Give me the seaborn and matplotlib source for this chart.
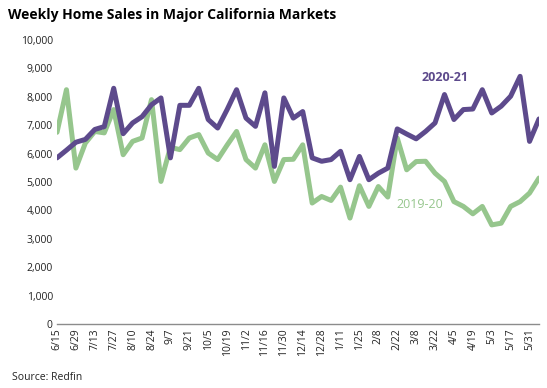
"""
Weekly home sales in major California markets (Redfin), 2020-21 vs 2019-20.
"""

# %% ----------------------------------------
# Requirements and constants
import numpy as np
import pandas as pd
import seaborn as sns
import matplotlib.pyplot as plt
from matplotlib.ticker import FuncFormatter

# weekly values, first week is 6/15, every other week gets a tick label
sales_2020_21 = [5850, 6120, 6400, 6500, 6850, 6950, 8300, 6700, 7080, 7300,
                 7720, 7960, 5850, 7700, 7700, 8300, 7200, 6900, 7550, 8250,
                 7250, 6960, 8140, 5550, 7960, 7250, 7480, 5850, 5730, 5790,
                 6080, 5080, 5900, 5080, 5310, 5490, 6870, 6690, 6520, 6780,
                 7080, 8080, 7200, 7550, 7570, 8250, 7430, 7670, 8020, 8720,
                 6430, 7220]
sales_2019_20 = [6750, 8250, 5490, 6370, 6780, 6730, 7550, 5960, 6430, 6550,
                 7900, 5020, 6220, 6140, 6550, 6670, 6020, 5790, 6300, 6780,
                 5790, 5490, 6310, 5020, 5790, 5800, 6310, 4260, 4490, 4350,
                 4820, 3730, 4870, 4140, 4840, 4470, 6550, 5430, 5720, 5730,
                 5310, 5020, 4310, 4140, 3880, 4140, 3490, 3550, 4140, 4310,
                 4610, 5140]
tick_labels = ['6/15', '6/29', '7/13', '7/27', '8/10', '8/24', '9/7', '9/21',
               '10/5', '10/19', '11/2', '11/16', '11/30', '12/14', '12/28',
               '1/11', '1/25', '2/8', '2/22', '3/8', '3/22', '4/5', '4/19',
               '5/3', '5/17', '5/31']

PURPLE = '#5d4a8c'
GREEN = '#96c68d'
TEXT = '#222222'

sns.set_style('white')
plt.rcParams['font.family'] = ['Open Sans', 'DejaVu Sans']

# %% ----------------------------------------
# Build data
week = np.arange(len(sales_2020_21))
df = pd.DataFrame({'week': week,
                   '2020-21': sales_2020_21,
                   '2019-20': sales_2019_20})

# %% ----------------------------------------
# Plot
fig = plt.figure(figsize=(5.47, 3.88), dpi=100)
ax = fig.add_axes([57 / 547, 1 - 324 / 388, 482 / 547, 284 / 388])

sns.lineplot(df, x='week', y='2019-20', color=GREEN, lw=3.6, ax=ax,
             solid_joinstyle='round')
sns.lineplot(df, x='week', y='2020-21', color=PURPLE, lw=3.6, ax=ax,
             solid_joinstyle='round')

ax.set_xlim(0, len(week) - 1)
ax.set_ylim(0, 10000)
ax.set_yticks(np.arange(0, 10001, 1000))
ax.yaxis.set_major_formatter(FuncFormatter(lambda v, p: f'{int(v):,}'))
ax.set_xticks(week[::2])
ax.set_xticklabels(tick_labels, rotation=90)
ax.tick_params(axis='both', length=0, labelsize=7.5, colors=TEXT, pad=3)
ax.set_xlabel('')
ax.set_ylabel('')

for side in ['left', 'right', 'top']:
    ax.spines[side].set_visible(False)
ax.spines['bottom'].set_color('#8c8c8c')
ax.spines['bottom'].set_linewidth(1.0)

ax.text(41.1, 8680, '2020-21', color=PURPLE, fontsize=9, fontweight='bold',
        ha='center', va='center')
ax.text(38.4, 4200, '2019-20', color=GREEN, fontsize=9,
        ha='center', va='center')

fig.text(8 / 547, 1 - 15 / 388, 'Weekly Home Sales in Major California Markets',
         fontsize=10, fontweight='bold', color='black', va='center', ha='left')
fig.text(12 / 547, 1 - 377 / 388, 'Source: Redfin', fontsize=7.5, color=TEXT,
         va='center', ha='left')

fig.savefig('out.png', dpi=100)
